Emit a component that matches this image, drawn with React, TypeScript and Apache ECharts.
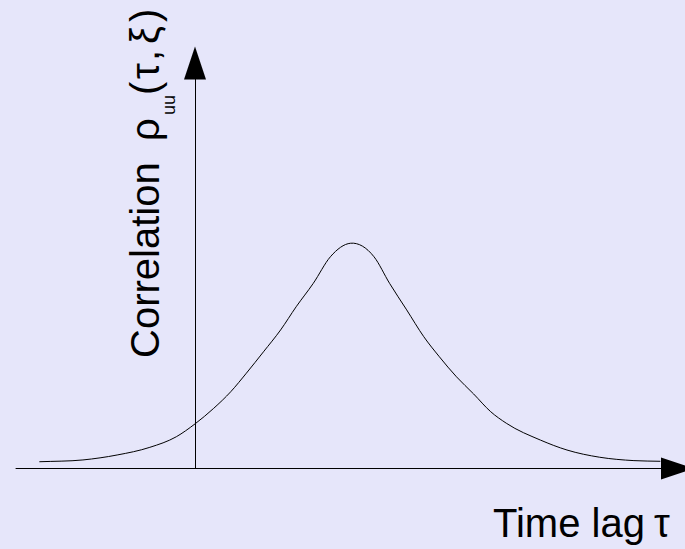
import React, { useEffect, useRef } from "react";
import * as echarts from "echarts";

// Time lag τ (in units of the peak delay) and correlation ρ_uu(τ, ξ)
const tau = [
  -1.0, -0.72, -0.5, -0.29, -0.12, 0, 0.12, 0.23, 0.33, 0.44, 0.55, 0.65, 0.76,
  0.87, 1.0, 1.15, 1.25, 1.36, 1.47, 1.57, 1.68, 1.79, 1.9, 2.0, 2.22, 2.39,
  2.6, 2.82, 2.99,
];
const rho = [
  0.03, 0.038, 0.06, 0.094, 0.141, 0.198, 0.267, 0.341, 0.423, 0.518, 0.615,
  0.718, 0.822, 0.94, 1.0, 0.94, 0.822, 0.704, 0.585, 0.496, 0.407, 0.331,
  0.252, 0.201, 0.126, 0.082, 0.05, 0.035, 0.032,
];

const xTitle = "Time lag";
const xSymbol = "τ";
const yTitleMain = "Correlation";
const yTitleSymbol = "ρ";
const yTitleSub = "uu";
const yTitleArgs = ["(", "τ", ",", "ξ", ")"];

const FONT = "'Liberation Sans', Arial, sans-serif";
// offset from the em-box centre to the alphabetic baseline (fraction of size)
const BASE = 0.3465;

function txt(text: string, x: number, baseline: number, size: number) {
  return {
    type: "text",
    x,
    y: baseline - BASE * size,
    style: {
      text,
      font: `${size}px ${FONT}`,
      fill: "#000",
      align: "left",
      verticalAlign: "middle",
    },
  };
}

// Smooth cubic Hermite path through pixel points (x increasing)
function hermitePath(pts: number[][]): string {
  const n = pts.length;
  const h: number[] = [];
  const d: number[] = [];
  for (let i = 0; i < n - 1; i++) {
    h.push(pts[i + 1][0] - pts[i][0]);
    d.push((pts[i + 1][1] - pts[i][1]) / h[i]);
  }
  const m: number[] = [];
  for (let i = 0; i < n; i++) {
    if (i === 0) m.push(d[0]);
    else if (i === n - 1) m.push(d[n - 2]);
    else m.push((h[i - 1] * d[i] + h[i] * d[i - 1]) / (h[i - 1] + h[i]));
  }
  let p = `M${pts[0][0]},${pts[0][1]}`;
  for (let i = 0; i < n - 1; i++) {
    const [x0, y0] = pts[i];
    const [x1, y1] = pts[i + 1];
    const k = h[i] / 3;
    p += ` C${x0 + k},${y0 + m[i] * k} ${x1 - k},${y1 - m[i + 1] * k} ${x1},${y1}`;
  }
  return p;
}

export default function App() {
  const ref = useRef<HTMLDivElement>(null);

  useEffect(() => {
    if (!ref.current) return;
    const chart = echarts.init(ref.current, undefined, { renderer: "svg" });

    const axisLine = {
      show: true,
      onZero: true,
      symbol: ["none", "triangle"],
      symbolSize: [22, 33],
      lineStyle: { color: "#000", width: 1 },
    };

    // glyph positions along the rotated y title (distance from its start)
    const argPos = [263, 279, 297, 314, 336];

    chart.setOption({
      animation: false,
      backgroundColor: "#e6e6fa",
      grid: { left: 16, right: 7.5, top: 63, bottom: 80.5 },
      xAxis: {
        type: "value",
        min: -1.15,
        max: 3.1,
        axisLine,
        axisTick: { show: false },
        axisLabel: { show: false },
        splitLine: { show: false },
      },
      yAxis: {
        type: "value",
        min: 0,
        max: 1.8,
        axisLine,
        axisTick: { show: false },
        axisLabel: { show: false },
        splitLine: { show: false },
      },
      series: [
        {
          type: "custom",
          data: tau.map((t, i) => [t, rho[i]]),
          encode: { x: 0, y: 1 },
          clip: false,
          z: 3,
          renderItem: (params: any, api: any) => {
            if (params.dataIndex !== 0) return { type: "group", children: [] };
            const pts = tau.map((t, i) => api.coord([t, rho[i]]));
            return {
              type: "path",
              shape: { pathData: hermitePath(pts) },
              style: { stroke: "#000", fill: "none", lineWidth: 1 },
            };
          },
        },
      ],
      graphic: [
        txt(xTitle, 493, 536.7, 40),
        txt(xSymbol, 654, 536.7, 40),
        {
          type: "group",
          x: 159,
          y: 358,
          rotation: Math.PI / 2,
          children: [
            txt(yTitleMain, 0, 0, 40),
            txt(yTitleSymbol, 217, 0, 40),
            txt(yTitleSub, 243, 16, 18),
            ...yTitleArgs.map((g, i) => txt(g, argPos[i], 0, 40)),
          ],
        },
      ],
    });

    return () => chart.dispose();
  }, []);

  return (
    <div
      ref={ref}
      style={{ position: "fixed", left: 0, top: 0, width: 685, height: 549 }}
    />
  );
}
